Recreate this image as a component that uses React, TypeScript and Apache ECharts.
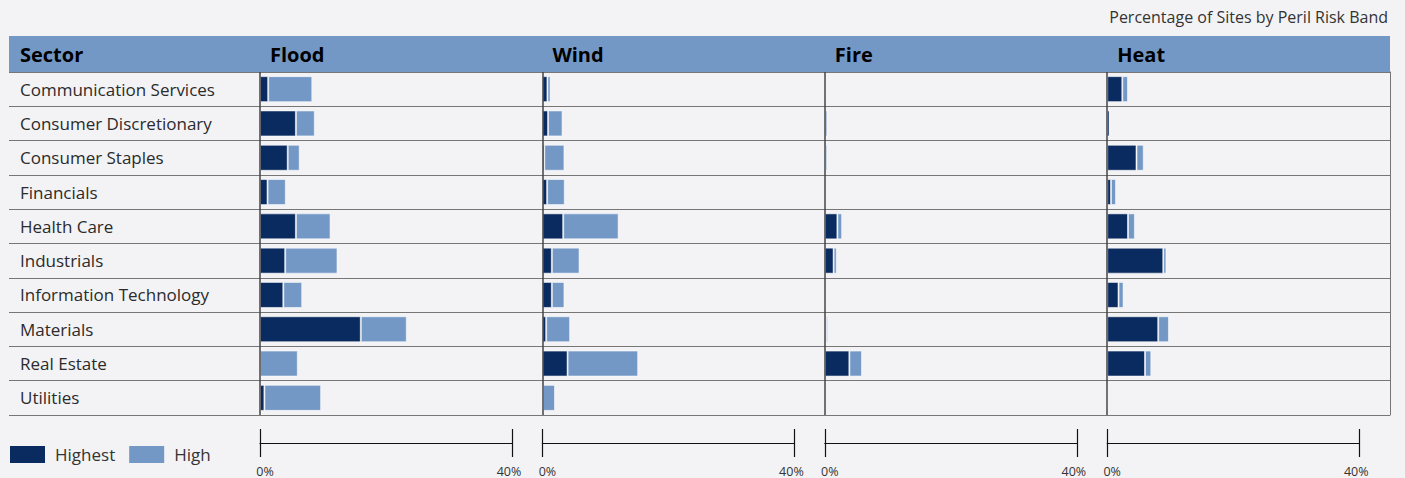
import React, { useEffect, useRef } from "react";
import * as echarts from "echarts";

// Sectors listed top to bottom
const sectors = [
  "Communication Services",
  "Consumer Discretionary",
  "Consumer Staples",
  "Financials",
  "Health Care",
  "Industrials",
  "Information Technology",
  "Materials",
  "Real Estate",
  "Utilities",
];

const perils = ["Flood", "Wind", "Fire", "Heat"];
const bandNames = ["Highest", "High"];

// Share of sites (%) in each risk band, per peril
const floodHighest = [1.3, 5.7, 4.4, 1.2, 5.7, 4.0, 3.7, 16.0, 0, 0.7];
const floodHigh = [7.0, 3.0, 1.9, 2.9, 5.5, 8.3, 3.0, 7.3, 6.0, 9.0];
const windHighest = [0.8, 0.9, 0.3, 0.75, 3.3, 1.5, 1.5, 0.6, 4.0, 0.1];
const windHigh = [0.5, 2.3, 3.2, 2.8, 8.8, 4.4, 2.0, 3.8, 11.2, 1.9];
const fireHighest = [0, 0, 0.1, 0, 2.0, 1.4, 0, 0.2, 3.9, 0];
const fireHigh = [0, 0.4, 0.3, 0.2, 0.75, 0.5, 0, 0.3, 2.0, 0.2];
const heatHighest = [2.4, 0.4, 4.65, 0.6, 3.3, 8.9, 1.8, 8.1, 6.0, 0];
const heatHigh = [0.9, 0, 1.15, 0.8, 1.1, 0.5, 0.8, 1.7, 1.0, 0];

const axisMin = 0;
const axisMax = 40;

const highestByPeril = [floodHighest, windHighest, fireHighest, heatHighest];
const highByPeril = [floodHigh, windHigh, fireHigh, heatHigh];

const FONT = "Open Sans";
const DARK = "#0a2b5f";
const LIGHT = "#7398c6";
const BG = "#f3f3f6";

const TABLE_LEFT = 9;
const TABLE_RIGHT = 1390;
const HEADER_TOP = 36;
const BODY_TOP = 72;
const BODY_BOTTOM = 415;
const PANEL_LEFT0 = 260;
const PANEL_STEP = 282.4;
const PANEL_WIDTH = 252;

function buildOption() {
  const grids: any[] = [
    {
      left: TABLE_LEFT,
      top: BODY_TOP,
      width: TABLE_RIGHT - TABLE_LEFT,
      height: BODY_BOTTOM - BODY_TOP,
    },
  ];
  const xAxes: any[] = [{ type: "value", gridIndex: 0, show: false }];
  const yAxes: any[] = [
    {
      type: "category",
      gridIndex: 0,
      data: sectors,
      inverse: true,
      axisLine: { show: false },
      axisTick: { show: false },
      splitLine: { show: true, lineStyle: { color: "#767676", width: 1 } },
      axisLabel: {
        inside: true,
        margin: 11,
        fontSize: 17,
        fontFamily: FONT,
        color: "#2b2b2b",
      },
    },
    {
      type: "category",
      gridIndex: 0,
      position: "right",
      data: sectors,
      inverse: true,
      axisLine: { show: true, onZero: false, lineStyle: { color: "#767676", width: 1 } },
      axisTick: { show: false },
      axisLabel: { show: false },
      splitLine: { show: false },
    },
  ];
  const series: any[] = [];
  const graphics: any[] = [
    {
      type: "rect",
      shape: {
        x: TABLE_LEFT,
        y: HEADER_TOP,
        width: TABLE_RIGHT - TABLE_LEFT,
        height: BODY_TOP - HEADER_TOP,
      },
      style: { fill: LIGHT },
      silent: true,
    },
    {
      type: "text",
      x: 20,
      y: (HEADER_TOP + BODY_TOP) / 2,
      style: {
        text: "Sector",
        fontSize: 20,
        fontWeight: "bold",
        fontFamily: FONT,
        fill: "#000",
        verticalAlign: "middle",
      },
    },
  ];

  const tickLabelStyle = { fontSize: 12.5, lineHeight: 12, fontFamily: FONT, color: "#333" };

  perils.forEach((peril, p) => {
    const left = PANEL_LEFT0 + p * PANEL_STEP;
    const gridIndex = p + 1;
    grids.push({
      left,
      top: BODY_TOP,
      width: PANEL_WIDTH,
      height: BODY_BOTTOM - BODY_TOP,
    });
    // main axis: line, lower half of end ticks, labels
    xAxes.push({
      type: "value",
      gridIndex,
      min: axisMin,
      max: axisMax,
      interval: axisMax - axisMin,
      position: "bottom",
      offset: 28,
      axisLine: { show: true, onZero: false, lineStyle: { color: "#111", width: 1.2 } },
      axisTick: { show: true, inside: false, length: 14, lineStyle: { color: "#111", width: 1.2 } },
      splitLine: { show: false },
      axisLabel: {
        margin: 22,
        ...tickLabelStyle,
        formatter: (v: number) => (v === axisMin ? `{a|${v}%}` : `{b|${v}%}`),
        rich: {
          a: { padding: [0, 0, 0, 10], ...tickLabelStyle },
          b: { padding: [0, 6, 0, 0], ...tickLabelStyle },
        },
      },
    });
    // companion axis: upper half of end ticks
    xAxes.push({
      type: "value",
      gridIndex,
      min: axisMin,
      max: axisMax,
      interval: axisMax - axisMin,
      position: "bottom",
      offset: 28,
      axisLine: { show: false, onZero: false },
      axisTick: { show: true, inside: true, length: 14, lineStyle: { color: "#111", width: 1.2 } },
      splitLine: { show: false },
      axisLabel: { show: false },
    });
    yAxes.push({
      type: "category",
      gridIndex,
      data: sectors,
      inverse: true,
      axisLine: { show: false },
      axisTick: { show: false },
      axisLabel: { show: false },
      splitLine: { show: false },
    });

    const xAxisIndex = 1 + p * 2;
    const yAxisIndex = 2 + p;
    series.push({
      type: "bar",
      name: bandNames[0],
      stack: peril,
      xAxisIndex,
      yAxisIndex,
      barWidth: 26,
      data: highestByPeril[p],
      itemStyle: { color: DARK, borderColor: "rgba(255,255,255,0.55)", borderWidth: 1 },
      emphasis: { disabled: true },
      // zero baseline of the panel
      markLine: {
        silent: true,
        symbol: "none",
        label: { show: false },
        lineStyle: { color: "#444", width: 1.5, type: "solid" },
        data: [{ xAxis: axisMin }],
      },
    });
    series.push({
      type: "bar",
      name: bandNames[1],
      stack: peril,
      xAxisIndex,
      yAxisIndex,
      barWidth: 26,
      data: highByPeril[p],
      itemStyle: { color: LIGHT, borderColor: "rgba(255,255,255,0.55)", borderWidth: 1 },
      emphasis: { disabled: true },
    });

    graphics.push({
      type: "text",
      x: left + 10,
      y: (HEADER_TOP + BODY_TOP) / 2,
      style: {
        text: peril,
        fontSize: 20,
        fontWeight: "bold",
        fontFamily: FONT,
        fill: "#000",
        verticalAlign: "middle",
      },
    });
  });

  return {
    animation: false,
    backgroundColor: BG,
    textStyle: { fontFamily: FONT },
    title: {
      text: "Percentage of Sites by Peril Risk Band",
      right: 17,
      top: 9,
      padding: 0,
      textStyle: { fontSize: 16, fontWeight: "normal", fontFamily: FONT, color: "#333" },
    },
    legend: {
      left: 10,
      top: 446,
      padding: 0,
      itemWidth: 35,
      itemHeight: 17,
      itemGap: 14,
      selectedMode: false,
      data: bandNames,
      icon: "rect",
      itemStyle: { borderWidth: 0 },
      textStyle: { fontSize: 17, fontFamily: FONT, color: "#333", padding: [0, 0, 0, 5] },
    },
    graphic: graphics,
    grid: grids,
    xAxis: xAxes,
    yAxis: yAxes,
    series,
  };
}

export default function App() {
  const ref = useRef<HTMLDivElement>(null);

  useEffect(() => {
    if (!ref.current) return;
    const chart = echarts.init(ref.current, undefined, { renderer: "svg" });
    chart.setOption(buildOption() as any);
    return () => chart.dispose();
  }, []);

  return (
    <div
      ref={ref}
      style={{ position: "fixed", left: 0, top: 0, width: 1405, height: 478, background: BG }}
    />
  );
}
